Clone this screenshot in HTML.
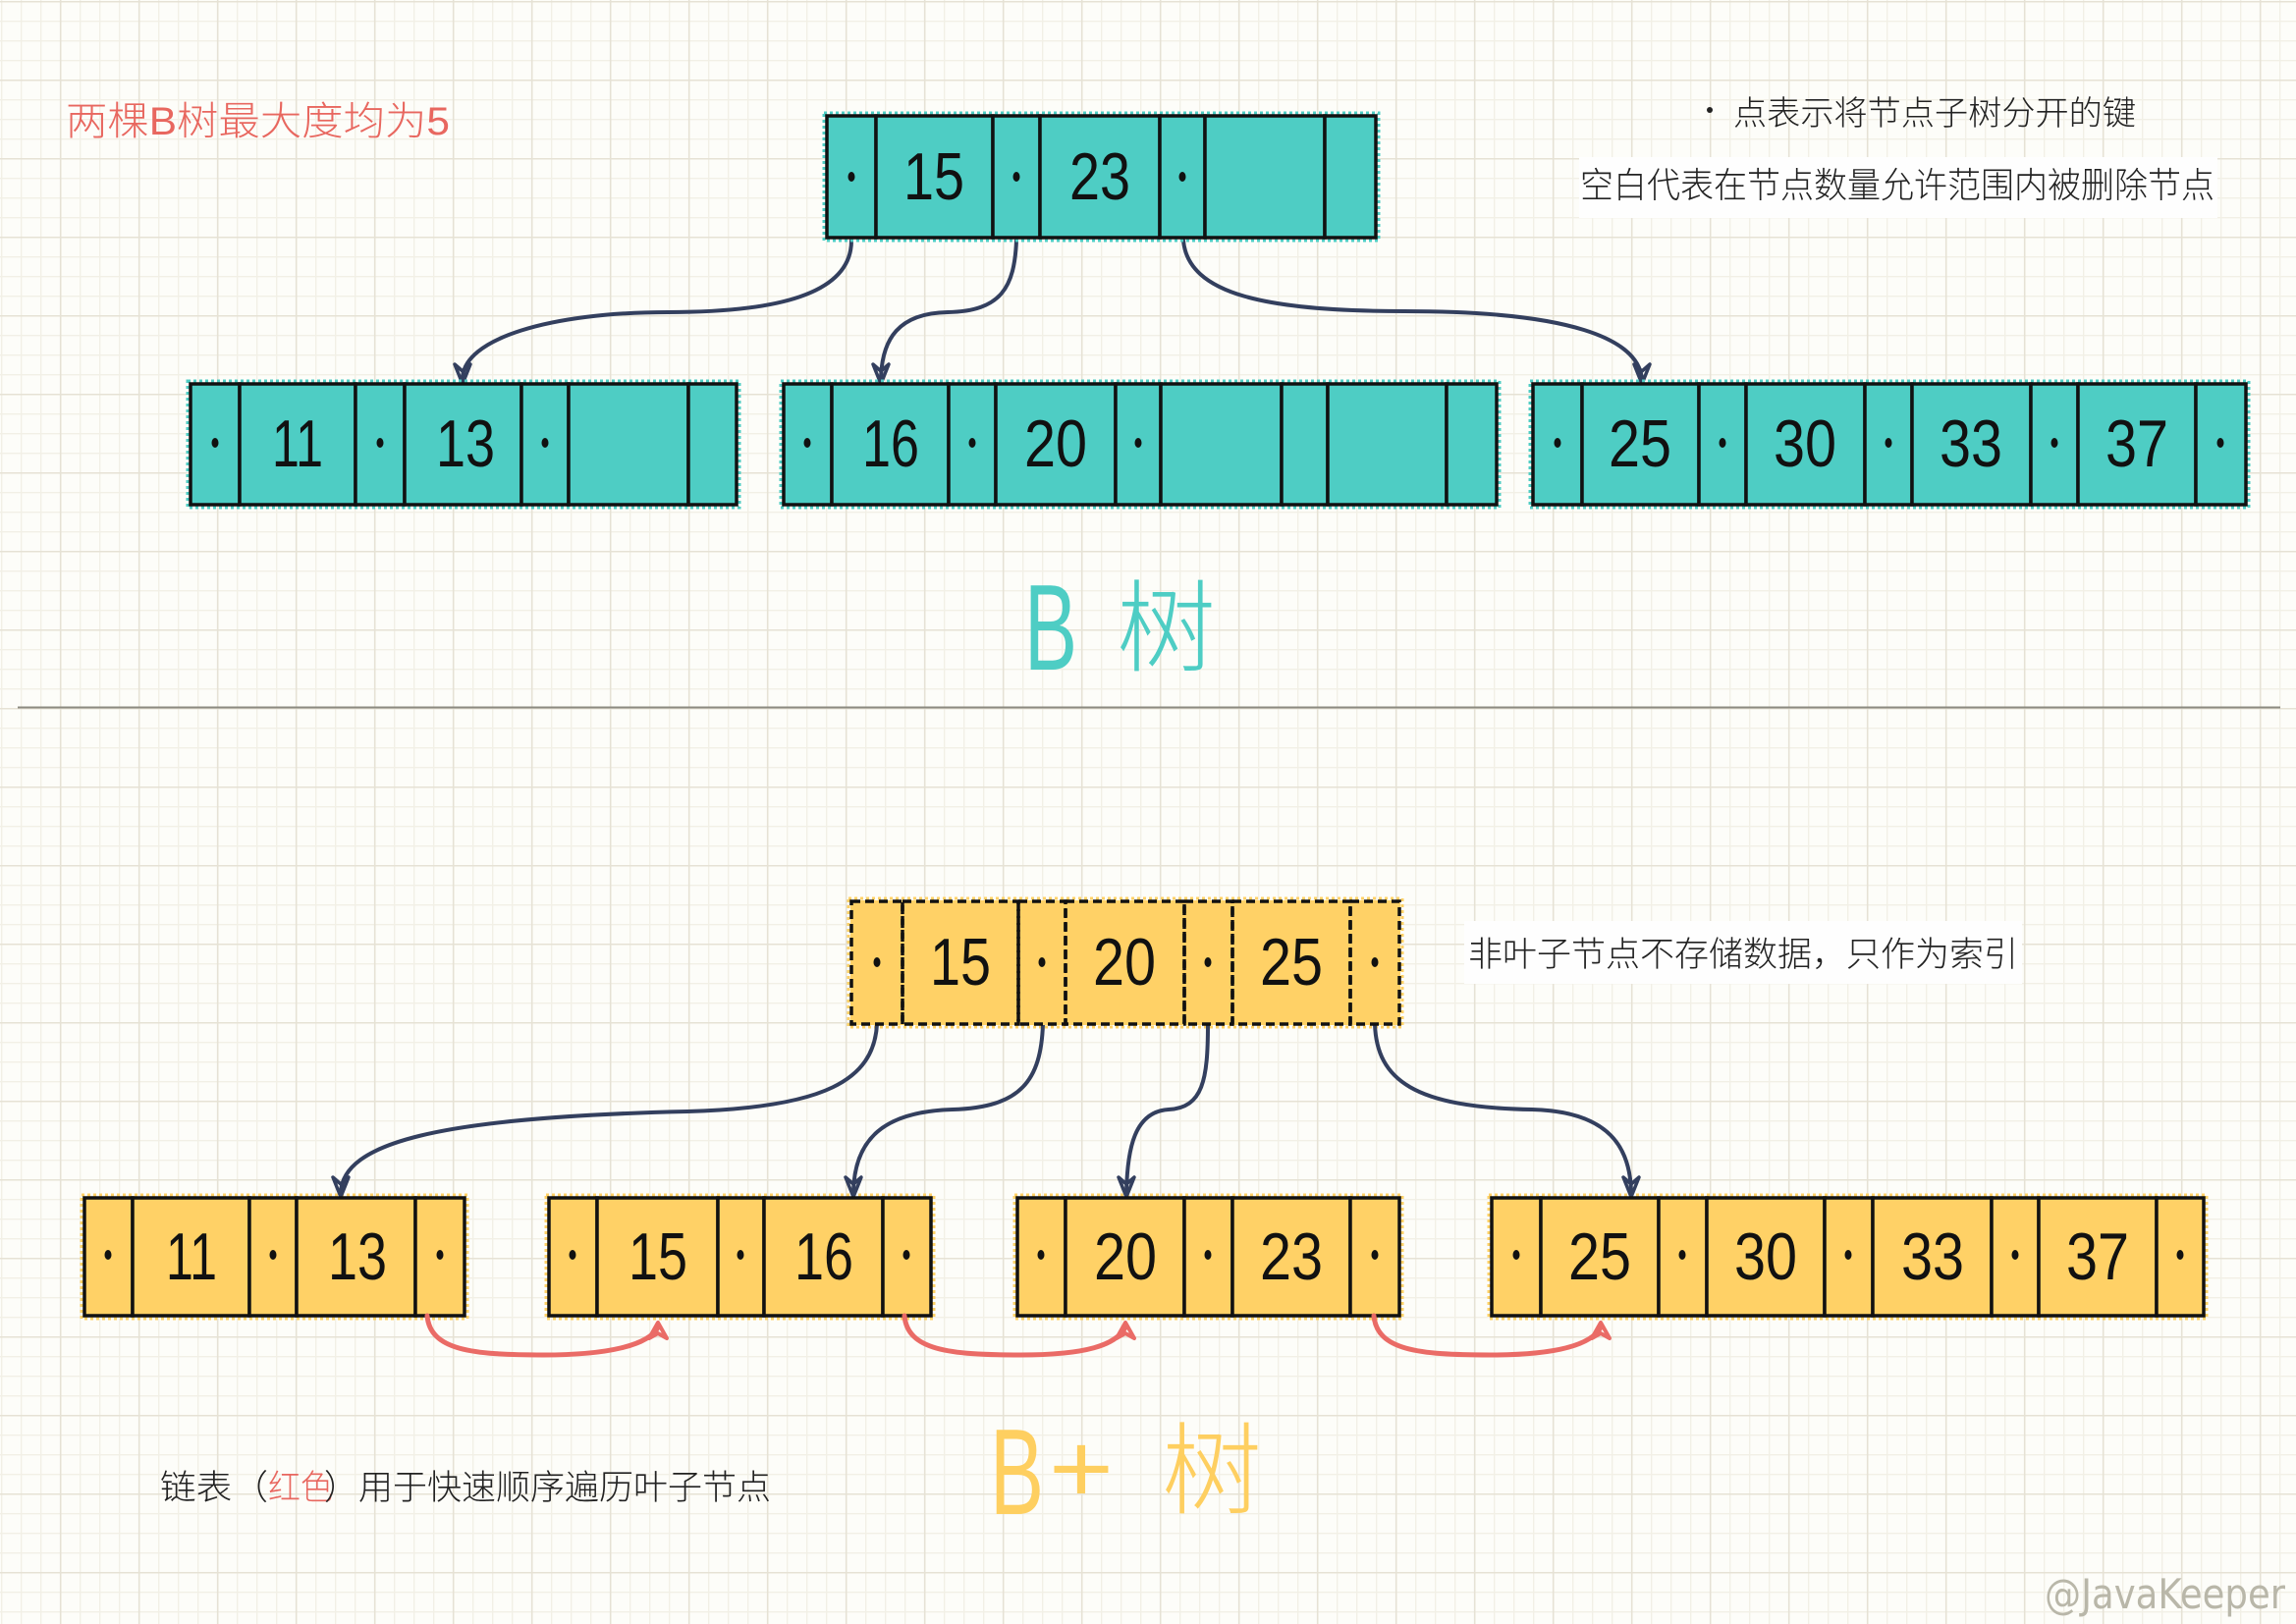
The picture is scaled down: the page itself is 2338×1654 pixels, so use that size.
<!DOCTYPE html>
<html><head><meta charset="utf-8">
<style>
html,body{margin:0;padding:0;background:#fdfdf9;}
svg{display:block;}
.d{font-family:"Liberation Sans",sans-serif;font-size:68px;fill:#111;text-anchor:middle;}
.cj{font-family:"Liberation Sans","Noto Sans CJK SC",sans-serif;font-weight:300;}
</style></head>
<body>
<svg width="2338" height="1654" viewBox="0 0 2338 1654" xmlns="http://www.w3.org/2000/svg">
<defs>
<pattern id="g" x="1" y="1" width="80" height="80" patternUnits="userSpaceOnUse">
<path d="M0.7 0V80M20.7 0V80M40.7 0V80M0 20.7H80M0 40.7H80M0 60.7H80" stroke="#f2f0e6" stroke-width="1.3" fill="none"/>
<path d="M60.7 0V80M0 0.7H80" stroke="#e6e2d5" stroke-width="1.6" fill="none"/>
</pattern>
</defs>
<rect width="2338" height="1654" fill="#fdfdf9"/>
<rect width="2338" height="1654" fill="url(#g)"/>

<!-- white boxes behind notes -->
<rect x="1608" y="160" width="650" height="62" fill="#fefefe"/>
<rect x="1491" y="938" width="568" height="64" fill="#fefefe"/>

<!-- title -->
<text class="cj" x="67" y="137" font-size="40" fill="#e8675f" textLength="391" lengthAdjust="spacingAndGlyphs">两棵B树最大度均为5</text>

<!-- notes top right -->
<circle cx="1741" cy="112" r="3" fill="#222"/>
<text class="cj" x="1765" y="127" font-size="34" fill="#222" textLength="410" lengthAdjust="spacingAndGlyphs">点表示将节点子树分开的键</text>
<text class="cj" x="1609" y="201" font-size="36" fill="#222" textLength="646" lengthAdjust="spacingAndGlyphs">空白代表在节点数量允许范围内被删除节点</text>

<!-- ============ B TREE ============ -->
<g stroke="#333f5e" stroke-width="4" fill="none" stroke-linecap="round">
<path d="M867,245 C867,300 790,318 680,318 C560,318 471,345 471,386"/>
<path d="M1035,245 C1033,292 1020,317 965,318 C915,319 898,345 897,386"/>
<path d="M1205,245 C1210,300 1290,317 1430,317 C1600,317 1668,345 1672,386"/>
</g>
<g stroke="#333f5e" stroke-width="3.5" fill="none" stroke-linejoin="round">
<polygon points="471,391 463,371 471,378 479,371"/>
<polygon points="897,391 889,371 897,378 905,371"/>
<polygon points="1672,391 1664,371 1672,378 1680,371"/>
</g>

<!-- fuzzy fill outlines -->
<g fill="none" stroke-width="3" stroke-dasharray="3 3">
<rect x="839" y="115" width="565" height="130" stroke="#4ecdc4"/>
<rect x="191" y="388" width="562" height="129" stroke="#4ecdc4"/>
<rect x="795" y="388" width="732" height="129" stroke="#4ecdc4"/>
<rect x="1558" y="388" width="732" height="129" stroke="#4ecdc4"/>
<rect x="864" y="915" width="564" height="131" stroke="#ffd166"/>
<rect x="83" y="1217" width="393" height="126" stroke="#ffd166"/>
<rect x="556" y="1217" width="395" height="126" stroke="#ffd166"/>
<rect x="1033" y="1217" width="395" height="126" stroke="#ffd166"/>
<rect x="1516" y="1217" width="731" height="126" stroke="#ffd166"/>
</g>

<!-- B root -->
<g stroke="#111" stroke-width="3.5" fill="#4ecdc4">
<rect x="842" y="118" width="50" height="124"/>
<rect x="892" y="118" width="119" height="124"/>
<rect x="1011" y="118" width="48" height="124"/>
<rect x="1059" y="118" width="122" height="124"/>
<rect x="1181" y="118" width="46" height="124"/>
<rect x="1227" y="118" width="122" height="124"/>
<rect x="1349" y="118" width="52" height="124"/>
</g>
<g fill="#111">
<ellipse cx="867" cy="180" rx="3.5" ry="5"/>
<ellipse cx="1035" cy="180" rx="3.5" ry="5"/>
<ellipse cx="1204" cy="180" rx="3.5" ry="5"/>
</g>
<text class="d" x="951" y="203" textLength="62" lengthAdjust="spacingAndGlyphs">15</text>
<text class="d" x="1120" y="203" textLength="62" lengthAdjust="spacingAndGlyphs">23</text>

<!-- B leaf 1 -->
<g stroke="#111" stroke-width="3.5" fill="#4ecdc4">
<rect x="194" y="391" width="50" height="123"/>
<rect x="244" y="391" width="118" height="123"/>
<rect x="362" y="391" width="50" height="123"/>
<rect x="412" y="391" width="119" height="123"/>
<rect x="531" y="391" width="48" height="123"/>
<rect x="579" y="391" width="122" height="123"/>
<rect x="701" y="391" width="49" height="123"/>
</g>
<g fill="#111">
<ellipse cx="219" cy="451" rx="3.5" ry="5"/>
<ellipse cx="387" cy="451" rx="3.5" ry="5"/>
<ellipse cx="555" cy="451" rx="3.5" ry="5"/>
</g>
<text class="d" x="303" y="475" textLength="52" lengthAdjust="spacingAndGlyphs">11</text>
<text class="d" x="474" y="475" textLength="60" lengthAdjust="spacingAndGlyphs">13</text>

<!-- B leaf 2 -->
<g stroke="#111" stroke-width="3.5" fill="#4ecdc4">
<rect x="798" y="391" width="49" height="123"/>
<rect x="847" y="391" width="119" height="123"/>
<rect x="966" y="391" width="48" height="123"/>
<rect x="1014" y="391" width="122" height="123"/>
<rect x="1136" y="391" width="46" height="123"/>
<rect x="1182" y="391" width="123" height="123"/>
<rect x="1305" y="391" width="47" height="123"/>
<rect x="1352" y="391" width="121" height="123"/>
<rect x="1473" y="391" width="51" height="123"/>
</g>
<g fill="#111">
<ellipse cx="822" cy="451" rx="3.5" ry="5"/>
<ellipse cx="990" cy="451" rx="3.5" ry="5"/>
<ellipse cx="1159" cy="451" rx="3.5" ry="5"/>
</g>
<text class="d" x="907" y="475" textLength="58" lengthAdjust="spacingAndGlyphs">16</text>
<text class="d" x="1075" y="475" textLength="64" lengthAdjust="spacingAndGlyphs">20</text>

<!-- B leaf 3 -->
<g stroke="#111" stroke-width="3.5" fill="#4ecdc4">
<rect x="1561" y="391" width="50" height="123"/>
<rect x="1611" y="391" width="119" height="123"/>
<rect x="1730" y="391" width="48" height="123"/>
<rect x="1778" y="391" width="121" height="123"/>
<rect x="1899" y="391" width="48" height="123"/>
<rect x="1947" y="391" width="121" height="123"/>
<rect x="2068" y="391" width="48" height="123"/>
<rect x="2116" y="391" width="120" height="123"/>
<rect x="2236" y="391" width="51" height="123"/>
</g>
<g fill="#111">
<ellipse cx="1586" cy="451" rx="3.5" ry="5"/>
<ellipse cx="1754" cy="451" rx="3.5" ry="5"/>
<ellipse cx="1923" cy="451" rx="3.5" ry="5"/>
<ellipse cx="2092" cy="451" rx="3.5" ry="5"/>
<ellipse cx="2261" cy="451" rx="3.5" ry="5"/>
</g>
<text class="d" x="1670" y="475" textLength="64" lengthAdjust="spacingAndGlyphs">25</text>
<text class="d" x="1838" y="475" textLength="64" lengthAdjust="spacingAndGlyphs">30</text>
<text class="d" x="2007" y="475" textLength="64" lengthAdjust="spacingAndGlyphs">33</text>
<text class="d" x="2176" y="475" textLength="64" lengthAdjust="spacingAndGlyphs">37</text>

<!-- B label -->
<text x="1043" y="682" font-family="Liberation Sans, sans-serif" font-size="124" fill="#4ecdc4" textLength="54" lengthAdjust="spacingAndGlyphs">B</text>
<text class="cj" x="1137" y="676" font-size="102" fill="#4ecdc4" textLength="101" lengthAdjust="spacingAndGlyphs">树</text>

<!-- divider -->
<line x1="18" y1="720.5" x2="2322" y2="720.5" stroke="#8c8a80" stroke-width="2"/>

<!-- ============ B+ TREE ============ -->
<g stroke="#333f5e" stroke-width="4" fill="none" stroke-linecap="round">
<path d="M893,1043 C890,1100 840,1128 700,1132 C440,1138 350,1165 347,1214"/>
<path d="M1062,1043 C1060,1100 1040,1128 970,1130 C900,1132 870,1160 869,1214"/>
<path d="M1230,1043 C1230,1100 1225,1128 1190,1130 C1155,1132 1148,1170 1147,1214"/>
<path d="M1400,1043 C1402,1100 1440,1128 1560,1130 C1640,1132 1660,1170 1661,1214"/>
</g>
<g stroke="#333f5e" stroke-width="3.5" fill="none" stroke-linejoin="round">
<polygon points="347,1219 339,1199 347,1206 355,1199"/>
<polygon points="869,1219 861,1199 869,1206 877,1199"/>
<polygon points="1147,1219 1139,1199 1147,1206 1155,1199"/>
<polygon points="1661,1219 1653,1199 1661,1206 1669,1199"/>
</g>

<!-- B+ root (dashed) -->
<rect x="866" y="917" width="560" height="127" fill="#ffd166"/>
<g stroke="#111" stroke-width="3.5" fill="none" stroke-dasharray="9 5">
<rect x="867" y="918" width="52" height="125"/>
<rect x="919" y="918" width="118" height="125"/>
<rect x="1037" y="918" width="48" height="125"/>
<rect x="1085" y="918" width="121" height="125"/>
<rect x="1206" y="918" width="49" height="125"/>
<rect x="1255" y="918" width="120" height="125"/>
<rect x="1375" y="918" width="50" height="125"/>
</g>
<g fill="#111">
<ellipse cx="893" cy="980" rx="3.5" ry="5"/>
<ellipse cx="1061" cy="980" rx="3.5" ry="5"/>
<ellipse cx="1230" cy="980" rx="3.5" ry="5"/>
<ellipse cx="1400" cy="980" rx="3.5" ry="5"/>
</g>
<text class="d" x="978" y="1003" textLength="62" lengthAdjust="spacingAndGlyphs">15</text>
<text class="d" x="1145" y="1003" textLength="64" lengthAdjust="spacingAndGlyphs">20</text>
<text class="d" x="1315" y="1003" textLength="64" lengthAdjust="spacingAndGlyphs">25</text>

<text class="cj" x="1495" y="984" font-size="35" fill="#222" textLength="560" lengthAdjust="spacingAndGlyphs">非叶子节点不存储数据，只作为索引</text>

<!-- B+ leaves -->
<g stroke="#111" stroke-width="3.5" fill="#ffd166">
<rect x="86" y="1220" width="49" height="120"/>
<rect x="135" y="1220" width="119" height="120"/>
<rect x="254" y="1220" width="48" height="120"/>
<rect x="302" y="1220" width="121" height="120"/>
<rect x="423" y="1220" width="50" height="120"/>

<rect x="559" y="1220" width="49" height="120"/>
<rect x="608" y="1220" width="123" height="120"/>
<rect x="731" y="1220" width="47" height="120"/>
<rect x="778" y="1220" width="121" height="120"/>
<rect x="899" y="1220" width="49" height="120"/>

<rect x="1036" y="1220" width="49" height="120"/>
<rect x="1085" y="1220" width="121" height="120"/>
<rect x="1206" y="1220" width="49" height="120"/>
<rect x="1255" y="1220" width="120" height="120"/>
<rect x="1375" y="1220" width="50" height="120"/>

<rect x="1519" y="1220" width="50" height="120"/>
<rect x="1569" y="1220" width="120" height="120"/>
<rect x="1689" y="1220" width="49" height="120"/>
<rect x="1738" y="1220" width="120" height="120"/>
<rect x="1858" y="1220" width="49" height="120"/>
<rect x="1907" y="1220" width="121" height="120"/>
<rect x="2028" y="1220" width="48" height="120"/>
<rect x="2076" y="1220" width="120" height="120"/>
<rect x="2196" y="1220" width="48" height="120"/>
</g>
<g fill="#111">
<ellipse cx="110" cy="1278" rx="3.5" ry="5"/>
<ellipse cx="278" cy="1278" rx="3.5" ry="5"/>
<ellipse cx="448" cy="1278" rx="3.5" ry="5"/>
<ellipse cx="583" cy="1278" rx="3.5" ry="5"/>
<ellipse cx="754" cy="1278" rx="3.5" ry="5"/>
<ellipse cx="923" cy="1278" rx="3.5" ry="5"/>
<ellipse cx="1060" cy="1278" rx="3.5" ry="5"/>
<ellipse cx="1230" cy="1278" rx="3.5" ry="5"/>
<ellipse cx="1400" cy="1278" rx="3.5" ry="5"/>
<ellipse cx="1544" cy="1278" rx="3.5" ry="5"/>
<ellipse cx="1713" cy="1278" rx="3.5" ry="5"/>
<ellipse cx="1882" cy="1278" rx="3.5" ry="5"/>
<ellipse cx="2052" cy="1278" rx="3.5" ry="5"/>
<ellipse cx="2220" cy="1278" rx="3.5" ry="5"/>
</g>
<text class="d" x="195" y="1303" textLength="52" lengthAdjust="spacingAndGlyphs">11</text>
<text class="d" x="364" y="1303" textLength="60" lengthAdjust="spacingAndGlyphs">13</text>
<text class="d" x="670" y="1303" textLength="60" lengthAdjust="spacingAndGlyphs">15</text>
<text class="d" x="839" y="1303" textLength="60" lengthAdjust="spacingAndGlyphs">16</text>
<text class="d" x="1146" y="1303" textLength="64" lengthAdjust="spacingAndGlyphs">20</text>
<text class="d" x="1315" y="1303" textLength="64" lengthAdjust="spacingAndGlyphs">23</text>
<text class="d" x="1629" y="1303" textLength="64" lengthAdjust="spacingAndGlyphs">25</text>
<text class="d" x="1798" y="1303" textLength="64" lengthAdjust="spacingAndGlyphs">30</text>
<text class="d" x="1968" y="1303" textLength="64" lengthAdjust="spacingAndGlyphs">33</text>
<text class="d" x="2136" y="1303" textLength="64" lengthAdjust="spacingAndGlyphs">37</text>

<!-- red linked-list arrows -->
<g stroke="#ea6b66" stroke-width="5" fill="none" stroke-linecap="round" stroke-linejoin="round">
<path d="M435,1340 C438,1375 480,1380 553,1380 C620,1380 660,1370 670,1352"/>
<polygon points="670,1347 661,1363 670,1358 679,1363" stroke-width="4"/>
<path d="M921,1340 C924,1375 966,1380 1039,1380 C1106,1380 1136,1370 1146,1352"/>
<polygon points="1146,1347 1137,1363 1146,1358 1155,1363" stroke-width="4"/>
<path d="M1399,1340 C1402,1375 1444,1380 1517,1380 C1584,1380 1620,1370 1630,1352"/>
<polygon points="1630,1347 1621,1363 1630,1358 1639,1363" stroke-width="4"/>
</g>

<!-- bottom note -->
<text class="cj" x="163" y="1527" font-size="35" fill="#222" textLength="110" lengthAdjust="spacingAndGlyphs">链表（</text>
<text class="cj" x="273" y="1527" font-size="35" fill="#e8675f" textLength="66" lengthAdjust="spacingAndGlyphs">红色</text>
<text class="cj" x="330" y="1527" font-size="35" fill="#222" textLength="455" lengthAdjust="spacingAndGlyphs">）用于快速顺序遍历叶子节点</text>

<!-- B+ label -->
<text x="1008" y="1542" font-family="Liberation Sans, sans-serif" font-size="124" fill="#fecf60" textLength="55" lengthAdjust="spacingAndGlyphs">B</text>
<text x="1068" y="1530" font-family="Liberation Sans, sans-serif" font-size="100" fill="#fecf60" textLength="66" lengthAdjust="spacingAndGlyphs">+</text>
<text class="cj" x="1183" y="1534" font-size="102" fill="#fecf60" textLength="102" lengthAdjust="spacingAndGlyphs">树</text>

<!-- watermark -->
<text x="2082" y="1638" font-family="DejaVu Sans, Liberation Sans, sans-serif" font-size="42" fill="#b9b7a9" textLength="245" lengthAdjust="spacingAndGlyphs">@JavaKeeper</text>
</svg>
</body></html>
